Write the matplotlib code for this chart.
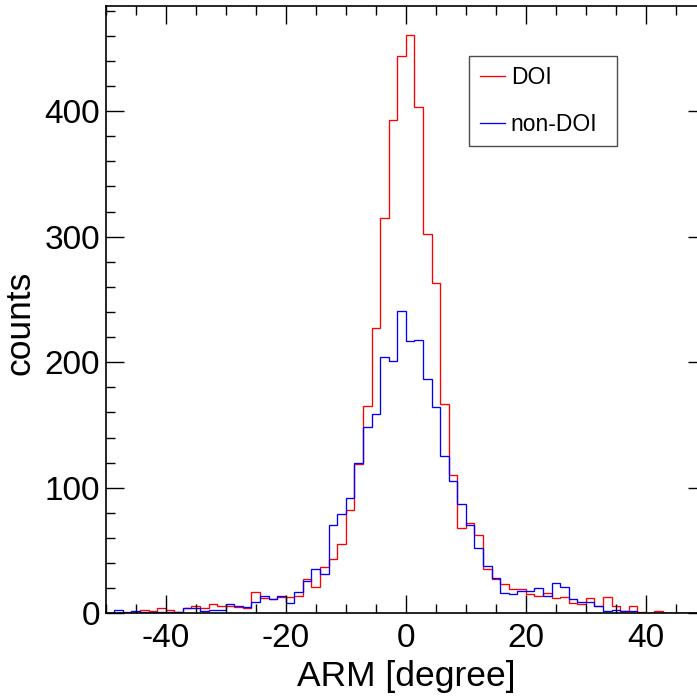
import numpy as np
import matplotlib
matplotlib.use('Agg')
import matplotlib.pyplot as plt
from matplotlib.ticker import MultipleLocator

plt.rcParams['font.family'] = ['Liberation Sans', 'DejaVu Sans']
plt.rcParams['axes.unicode_minus'] = False

# ARM histogram, 70 bins from -50 to 50 degree
edges = np.linspace(-50, 50, 71)

doi = [0, 0, 1, 0, 3, 2, 4, 3, 1, 4,
       6, 4, 7, 6, 6, 5, 4, 17, 12, 11,
       13, 13, 14, 27, 21, 37, 43, 55, 82, 119,
       165, 227, 315, 393, 444, 461, 403, 302, 263, 167,
       110, 68, 72, 62, 35, 27, 23, 19, 19, 15,
       14, 16, 12, 13, 8, 7, 12, 6, 13, 6,
       2, 6, 1, 0, 2, 0, 0, 0, 0, 0]

non_doi = [0, 3, 0, 2, 1, 1, 1, 1, 1, 4,
           4, 2, 3, 3, 7, 6, 5, 9, 14, 11,
           14, 8, 17, 26, 35, 31, 70, 79, 92, 120,
           148, 159, 204, 201, 241, 217, 218, 187, 164, 125,
           105, 87, 70, 52, 38, 28, 16, 15, 18, 18,
           20, 14, 24, 21, 11, 9, 9, 6, 2, 3,
           2, 2, 0, 0, 0, 0, 0, 0, 0, 0]

fig = plt.figure(figsize=(6.97, 7.0), dpi=100)
ax = fig.add_axes([0.1517, 0.1239, 0.861, 0.868])

ax.stairs(doi, edges, color='red', lw=0.95, label='DOI')
ax.stairs(non_doi, edges, color='blue', lw=0.95, label='non-DOI')

ax.set_xlim(-50, 50)
ax.set_ylim(0, 484)

ax.xaxis.set_major_locator(MultipleLocator(20))
ax.xaxis.set_minor_locator(MultipleLocator(5))
ax.yaxis.set_major_locator(MultipleLocator(100))
ax.yaxis.set_minor_locator(MultipleLocator(20))
ax.tick_params(which='both', direction='in', top=True, right=True,
               width=1, colors='black', labelsize=24)
ax.tick_params(which='major', length=13)
ax.tick_params(which='minor', length=6.5)
ax.tick_params(axis='x', pad=7)
ax.tick_params(axis='y', pad=4)
for s in ax.spines.values():
    s.set_linewidth(1.2)

ax.set_xlabel('ARM [degree]', fontsize=25.5, labelpad=4)
ax.set_ylabel('counts', fontsize=25.5)
ax.yaxis.set_label_coords(-0.115, 0.478)

# fixed-size legend box like ROOT's TLegend
leg = ax.legend(loc='upper left', bbox_to_anchor=(0.606, 0.7625, 0.246, 0.155),
                mode='expand', fontsize=16.5,
                fancybox=False, edgecolor='0.3', framealpha=1,
                handlelength=1.1, handletextpad=0.25, labelspacing=1.05,
                borderpad=0.45, borderaxespad=0)
leg.get_frame().set_linewidth(1)

fig.savefig('out.png', dpi=100)
